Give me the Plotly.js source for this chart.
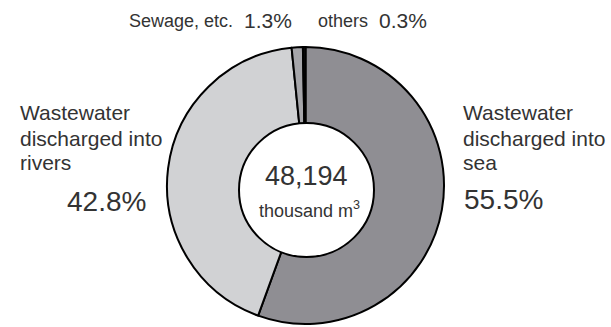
<!DOCTYPE html>
<html>
<head>
<meta charset="utf-8">
<script src="https://cdn.plot.ly/plotly-3.0.1.min.js"></script>
<style>html,body{margin:0;padding:0;background:#fff;}#chart{width:611px;height:327px;}</style>
</head>
<body>
<div id="chart"></div>
<script>
var categories = ["Wastewater discharged into sea", "Wastewater discharged into rivers", "Sewage, etc.", "others"];
var shares = [55.5, 42.8, 1.3, 0.3];
var total = "48,194";
var unitText = "thousand m<sup>3</sup>";

var W = 611, H = 327;
function px(x){return x / W;}
function py(y){return 1 - y / H;}
var font = "Liberation Sans, Arial, Helvetica, sans-serif";
var tc = "#333333";
function pct(v){return v.toFixed(1) + "%";}

var ann = [];
function add(text, x, y, size, xanchor){
  ann.push({text: text, x: px(x), y: py(y), xref: "paper", yref: "paper",
    xanchor: xanchor || "left", yanchor: "middle", showarrow: false,
    font: {family: font, size: size, color: tc}});
}
// left (rivers)
add("Wastewater", 18, 112, 21);
add("discharged into", 18, 138, 21);
add("rivers", 18, 162, 21);
add(pct(shares[1]), 65, 201, 28);
// right (sea)
add("Wastewater", 461, 112, 21);
add("discharged into", 461, 138, 21);
add("sea", 461, 162, 21);
add(pct(shares[0]), 462, 199, 28);
// top
add(categories[2], 127, 21, 18);
add(pct(shares[2]), 242, 20, 21);
add(categories[3], 316, 21, 18);
add(pct(shares[3]), 377, 20, 21);
// center
add(total, 306, 176, 27, "center");
add(unitText, 309, 209, 18, "center");

var data = [{
  type: "pie",
  labels: categories,
  values: shares,
  sort: false,
  direction: "clockwise",
  rotation: 0,
  hole: 0.44,
  textinfo: "none",
  hoverinfo: "none",
  marker: {colors: ["#8f8e93", "#d1d2d4", "#a6a6aa", "#111111"], line: {color: "#000000", width: 2}},
  domain: {x: [167 / W, 444 / W], y: [1 - 325 / H, 1 - 46 / H]}
}];
var layout = {
  width: W, height: H,
  margin: {l: 0, r: 0, t: 0, b: 0},
  showlegend: false,
  paper_bgcolor: "#ffffff",
  shapes: [{type: "circle", xref: "paper", yref: "paper", layer: "above",
    x0: px(239), x1: px(374), y0: py(257), y1: py(123),
    fillcolor: "#ffffff", line: {color: "#000000", width: 2}}],
  annotations: ann
};
Plotly.newPlot("chart", data, layout, {displayModeBar: false, staticPlot: true});
</script>
</body>
</html>
